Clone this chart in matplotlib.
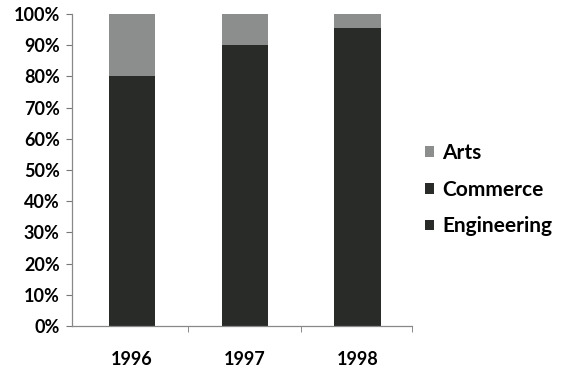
import matplotlib.pyplot as plt
import numpy as np

years = ["1996", "1997", "1998"]
engineering = [50, 55, 60]
commerce = [30, 35, 35.5]
arts = [20, 10, 4.5]

plt.rcParams['font.family'] = ['Lato', 'DejaVu Sans']

fig = plt.figure(figsize=(5.64, 3.72), dpi=100)
ax = fig.add_axes([0.128, 0.124, 0.602, 0.838])

x = np.arange(len(years))
w = 0.41
eng = np.array(engineering)
com = np.array(commerce)
art = np.array(arts)
total = eng + com + art

b1 = ax.bar(x, eng / total * 100, w, color="#292b29", label="Engineering")
b2 = ax.bar(x, com / total * 100, w, bottom=eng / total * 100, color="#292b29", label="Commerce")
b3 = ax.bar(x, art / total * 100, w, bottom=(eng + com) / total * 100, color="#8c8e8d", label="Arts")

ax.set_xlim(-0.53, 2.48)
ax.set_ylim(0, 100)
ax.set_yticks(range(0, 101, 10))
ax.set_yticklabels([f"{v}%" for v in range(0, 101, 10)], fontsize=13, fontweight="bold")
ax.set_xticks(x)
ax.set_xticklabels(years, fontsize=13, fontweight="bold")
ax.set_xticks([0.5, 1.5, 2.48], minor=True)
ax.tick_params(axis="x", which="major", length=0, pad=18)
ax.tick_params(axis="x", which="minor", length=4, color="#777777")
ax.tick_params(axis="y", length=4, color="#777777", pad=5)

for s in ["top", "right"]:
    ax.spines[s].set_visible(False)
for s in ["left", "bottom"]:
    ax.spines[s].set_color("#888888")
    ax.spines[s].set_linewidth(0.9)

fig.legend([b3, b2, b1], ["Arts", "Commerce", "Engineering"],
           loc="center left", bbox_to_anchor=(0.72, 0.49),
           frameon=False, handlelength=0.42, handleheight=0.42,
           handletextpad=0.4, labelspacing=0.8,
           prop={"size": 15, "weight": "bold"})

fig.savefig("out.png", dpi=100)
